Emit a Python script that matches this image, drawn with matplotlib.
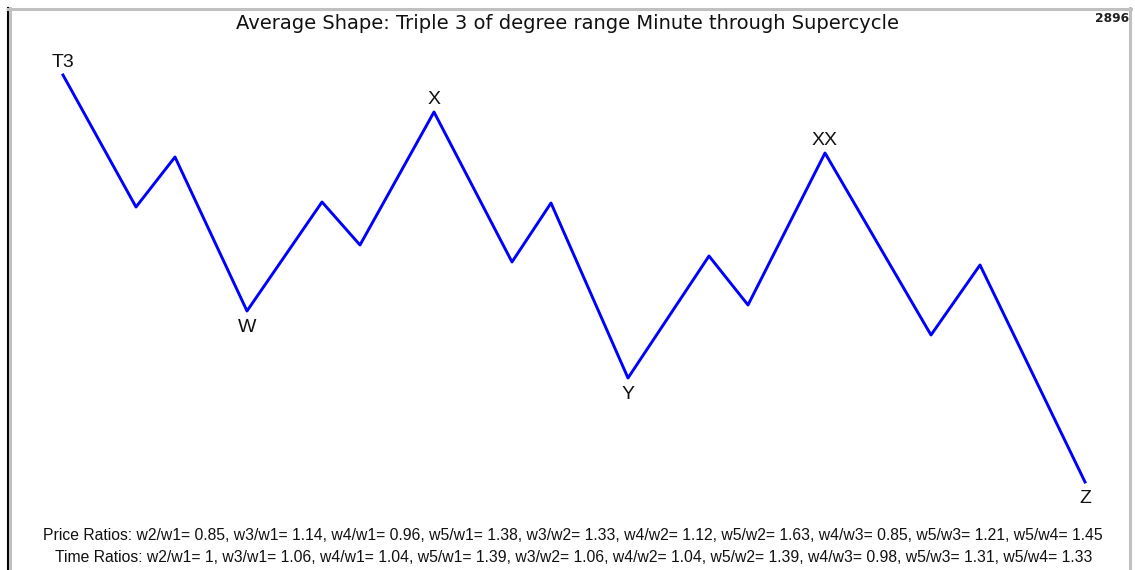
import matplotlib.pyplot as plt
from matplotlib.lines import Line2D

# wave pivots: horizontal position (time) and price level
times = [63, 136, 175, 247, 322, 360, 434, 512, 551, 628, 709, 748, 825, 931, 980, 1085]
prices = [495, 363, 413, 259, 368, 325, 458, 308, 367, 192, 314, 265, 417, 235, 305, 88]

# pivot labels: index into the wave, text, placed above (1) or below (-1)
label_idx = [0, 3, 6, 9, 12, 15]
label_txt = ['T3', 'W', 'X', 'Y', 'XX', 'Z']
label_side = [1, -1, 1, -1, 1, -1]

title = 'Average Shape: Triple 3 of degree range Minute through Supercycle'
price_ratios = ('Price Ratios: w2/w1= 0.85, w3/w1= 1.14, w4/w1= 0.96, w5/w1= 1.38, w3/w2= 1.33, '
                'w4/w2= 1.12, w5/w2= 1.63, w4/w3= 0.85, w5/w3= 1.21, w5/w4= 1.45')
time_ratios = ('Time Ratios: w2/w1= 1, w3/w1= 1.06, w4/w1= 1.04, w5/w1= 1.39, w3/w2= 1.06, '
               'w4/w2= 1.04, w5/w2= 1.39, w4/w3= 0.98, w5/w3= 1.31, w5/w4= 1.33')
sample_count = '2896'

plt.rcParams['font.family'] = ['Liberation Sans', 'DejaVu Sans']

W, H = 1135, 570
fig = plt.figure(figsize=(W / 100, H / 100), dpi=100)
ax = fig.add_axes([0, 0, 1, 1])
ax.set_xlim(0, W)
ax.set_ylim(0, H)
ax.axis('off')

ax.plot(times, prices, color='#0000ff', linewidth=2.1, solid_joinstyle='round')

for i, txt, side in zip(label_idx, label_txt, label_side):
    off = 3 if side > 0 else -6
    ax.annotate(txt, (times[i], prices[i]), xytext=(0, off), textcoords='offset points',
                ha='center', va='bottom' if side > 0 else 'top', fontsize=14, color='#111111')

fig.text(567 / W, 1 - 29 / H, title, ha='center', va='baseline', fontsize=14,
         family='DejaVu Sans', color='#111111')
fig.text(1112 / W, 1 - 19 / H, sample_count, ha='center', va='center', fontsize=8.8,
         family='DejaVu Sans', fontweight='bold', color='#222222')
fig.text(573 / W, 1 - 535 / H, price_ratios, ha='center', va='center', fontsize=11.3, color='#111111')
fig.text(574 / W, 1 - 558 / H, time_ratios, ha='center', va='center', fontsize=11.3, color='#111111')

# window frame: dark left edge with grey bevel, grey top and right edges
fig.add_artist(Line2D([7.5 / W, 7.5 / W], [0, 1 - 8 / H], color='#000000', linewidth=1.5,
                      transform=fig.transFigure))
fig.add_artist(Line2D([10 / W, 10 / W], [0, 1 - 8 / H], color='#c0c0c0', linewidth=2.2,
                      transform=fig.transFigure))
fig.add_artist(Line2D([8 / W, 1131 / W], [1 - 8.5 / H, 1 - 8.5 / H], color='#c0c0c0', linewidth=2.2,
                      transform=fig.transFigure))
fig.add_artist(Line2D([1130 / W, 1130 / W], [0, 1 - 8 / H], color='#c0c0c0', linewidth=2.2,
                      transform=fig.transFigure))

fig.savefig('out.png', dpi=100)
